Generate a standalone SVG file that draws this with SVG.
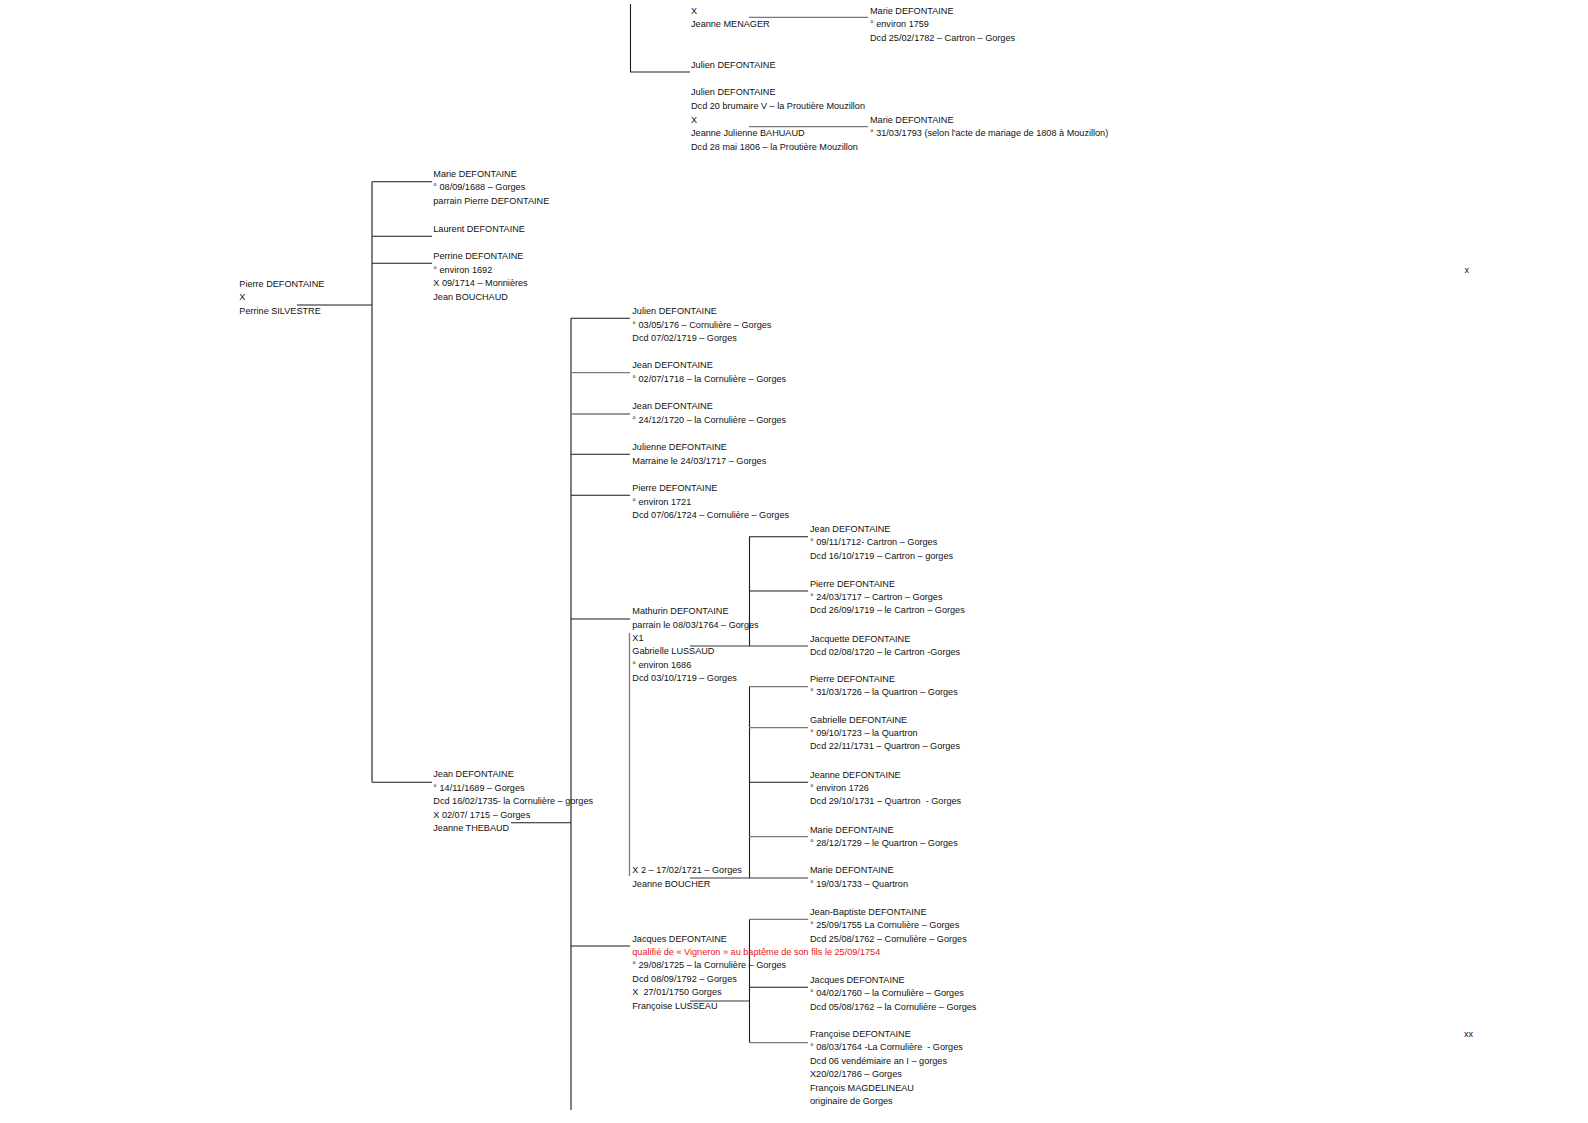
<svg xmlns="http://www.w3.org/2000/svg" width="1588" height="1123" viewBox="0 0 1588 1123">
<style>
text{font-family:"Liberation Sans",Arial,sans-serif;font-size:9.15px;fill:#111}
.red{fill:#e8141c}
.k{stroke:#1a1a1a;stroke-width:1.1;fill:none}
.g{stroke:#7a7a7a;stroke-width:1.3;fill:none}
</style>
<rect width="1588" height="1123" fill="#fff"/>
<g id="connectors">
<path class="k" d="M630.5 4V72H690"/>
<path class="g" d="M749 17.3H868M749 126.7H868"/>
<path class="k" d="M297 305H372M372 181.7V782.3M372 181.7H432M372 236.3H432M372 263.3H432M372 782.3H432"/>
<path class="k" d="M511 822.7H571M571 318.3V1110M571 318.3H630M571 454.3H630M571 495.3H630M571 619H630M571 946H630"/>
<path class="g" d="M571 372.7H630M571 414H630"/>
<path class="g" d="M629.5 633V876M690 646H808M690 878H808M690 1001H749"/>
<path class="k" d="M749.5 536.7V646M749 536.7H808M749 591H808"/>
<path class="k" d="M749.5 686.7V878M749 782.3H808"/>
<path class="g" d="M749 686.7H808M749 727.7H808M749 836.7H808"/>
<path class="k" d="M749.5 919.3V1042.7M749 987.3H808"/>
<path class="g" d="M749 919.3H808M749 1042.7H808"/>
</g>
<g id="couple-menager"><text x="691" y="14">X</text><text x="691" y="27.3">Jeanne MENAGER</text></g>
<g id="marie-1759"><text x="870" y="14">Marie DEFONTAINE</text><text x="870" y="27.3">° environ 1759</text><text x="870" y="40.7">Dcd 25/02/1782 – Cartron – Gorges</text></g>
<g id="julien-a"><text x="691" y="67.7">Julien DEFONTAINE</text></g>
<g id="julien-b"><text x="691" y="95">Julien DEFONTAINE</text><text x="691" y="108.5">Dcd 20 brumaire V – la Proutière Mouzillon</text><text x="691" y="122.5">X</text><text x="691" y="136">Jeanne Julienne BAHUAUD</text><text x="691" y="149.5">Dcd 28 mai 1806 – la Proutière Mouzillon</text></g>
<g id="marie-1793"><text x="870" y="122.5">Marie DEFONTAINE</text><text x="870" y="136">° 31/03/1793 (selon l'acte de mariage de 1808 à Mouzillon)</text></g>
<g id="pierre-root"><text x="239.3" y="286.7">Pierre DEFONTAINE</text><text x="239.3" y="300">X</text><text x="239.3" y="313.7">Perrine SILVESTRE</text></g>
<g id="marie-1688"><text x="433.3" y="176.7">Marie DEFONTAINE</text><text x="433.3" y="190.3">° 08/09/1688 – Gorges</text><text x="433.3" y="204">parrain Pierre DEFONTAINE</text></g>
<g id="laurent"><text x="433.3" y="231.7">Laurent DEFONTAINE</text></g>
<g id="perrine"><text x="433.3" y="259">Perrine DEFONTAINE</text><text x="433.3" y="272.7">° environ 1692</text><text x="433.3" y="286.3">X 09/1714 – Monnières</text><text x="433.3" y="299.7">Jean BOUCHAUD</text></g>
<g id="jean-1689"><text x="433.3" y="777.3">Jean DEFONTAINE</text><text x="433.3" y="791">° 14/11/1689 – Gorges</text><text x="433.3" y="804.3">Dcd 16/02/1735- la Cornulière – gorges</text><text x="433.3" y="817.7">X 02/07/ 1715 – Gorges</text><text x="433.3" y="831">Jeanne THEBAUD</text></g>
<g id="julien-176"><text x="632.3" y="314">Julien DEFONTAINE</text><text x="632.3" y="327.7">° 03/05/176 – Cornulière – Gorges</text><text x="632.3" y="341.3">Dcd 07/02/1719 – Gorges</text></g>
<g id="jean-1718"><text x="632.3" y="368.3">Jean DEFONTAINE</text><text x="632.3" y="382">° 02/07/1718 – la Cornulière – Gorges</text></g>
<g id="jean-1720"><text x="632.3" y="409.3">Jean DEFONTAINE</text><text x="632.3" y="422.7">° 24/12/1720 – la Cornulière – Gorges</text></g>
<g id="julienne"><text x="632.3" y="450">Julienne DEFONTAINE</text><text x="632.3" y="463.7">Marraine le 24/03/1717 – Gorges</text></g>
<g id="pierre-1721"><text x="632.3" y="491">Pierre DEFONTAINE</text><text x="632.3" y="504.7">° environ 1721</text><text x="632.3" y="518.3">Dcd 07/06/1724 – Cornulière – Gorges</text></g>
<g id="mathurin"><text x="632.3" y="614">Mathurin DEFONTAINE</text><text x="632.3" y="627.7">parrain le 08/03/1764 – Gorges</text><text x="632.3" y="641">X1</text><text x="632.3" y="654.3">Gabrielle LUSSAUD</text><text x="632.3" y="668">° environ 1686</text><text x="632.3" y="681.3">Dcd 03/10/1719 – Gorges</text><text x="632.3" y="873.3">X 2 – 17/02/1721 – Gorges</text><text x="632.3" y="886.7">Jeanne BOUCHER</text></g>
<g id="jean-1712"><text x="810" y="531.7">Jean DEFONTAINE</text><text x="810" y="545">° 09/11/1712- Cartron – Gorges</text><text x="810" y="558.7">Dcd 16/10/1719 – Cartron – gorges</text></g>
<g id="pierre-1717"><text x="810" y="586.7">Pierre DEFONTAINE</text><text x="810" y="600">° 24/03/1717 – Cartron – Gorges</text><text x="810" y="613.3">Dcd 26/09/1719 – le Cartron – Gorges</text></g>
<g id="jacquette"><text x="810" y="641.7">Jacquette DEFONTAINE</text><text x="810" y="655">Dcd 02/08/1720 – le Cartron -Gorges</text></g>
<g id="pierre-1726"><text x="810" y="681.7">Pierre DEFONTAINE</text><text x="810" y="695">° 31/03/1726 – la Quartron – Gorges</text></g>
<g id="gabrielle"><text x="810" y="722.7">Gabrielle DEFONTAINE</text><text x="810" y="736">° 09/10/1723 – la Quartron</text><text x="810" y="749.3">Dcd 22/11/1731 – Quartron – Gorges</text></g>
<g id="jeanne-1726"><text x="810" y="777.7">Jeanne DEFONTAINE</text><text x="810" y="790.7">° environ 1726</text><text x="810" y="804.3" xml:space="preserve">Dcd 29/10/1731 – Quartron  - Gorges</text></g>
<g id="marie-1729"><text x="810" y="832.7">Marie DEFONTAINE</text><text x="810" y="845.7">° 28/12/1729 – le Quartron – Gorges</text></g>
<g id="marie-1733"><text x="810" y="873.3">Marie DEFONTAINE</text><text x="810" y="886.7">° 19/03/1733 – Quartron</text></g>
<g id="jacques-1725"><text x="632.3" y="941.7">Jacques DEFONTAINE</text><text class="red" x="632.3" y="955">qualifié de « Vigneron » au baptême de son fils le 25/09/1754</text><text x="632.3" y="968.3">° 29/08/1725 – la Cornulière – Gorges</text><text x="632.3" y="982">Dcd 08/09/1792 – Gorges</text><text x="632.3" y="995.3" xml:space="preserve">X  27/01/1750 Gorges</text><text x="632.3" y="1008.7">Françoise LUSSEAU</text></g>
<g id="jean-baptiste"><text x="810" y="915">Jean-Baptiste DEFONTAINE</text><text x="810" y="928.3">° 25/09/1755 La Cornulière – Gorges</text><text x="810" y="942">Dcd 25/08/1762 – Cornulière – Gorges</text></g>
<g id="jacques-1760"><text x="810" y="982.7">Jacques DEFONTAINE</text><text x="810" y="996">° 04/02/1760 – la Cornulière – Gorges</text><text x="810" y="1009.7">Dcd 05/08/1762 – la Cornulière – Gorges</text></g>
<g id="francoise"><text x="810" y="1036.7">Françoise DEFONTAINE</text><text x="810" y="1050" xml:space="preserve">° 08/03/1764 -La Cornulière  - Gorges</text><text x="810" y="1063.7">Dcd 06 vendémiaire an I – gorges</text><text x="810" y="1077">X20/02/1786 – Gorges</text><text x="810" y="1090.7">François MAGDELINEAU</text><text x="810" y="1104">originaire de Gorges</text></g>
<g id="mark-x"><text x="1464.5" y="273">x</text></g>
<g id="mark-xx"><text x="1464" y="1037">xx</text></g>
</svg>
